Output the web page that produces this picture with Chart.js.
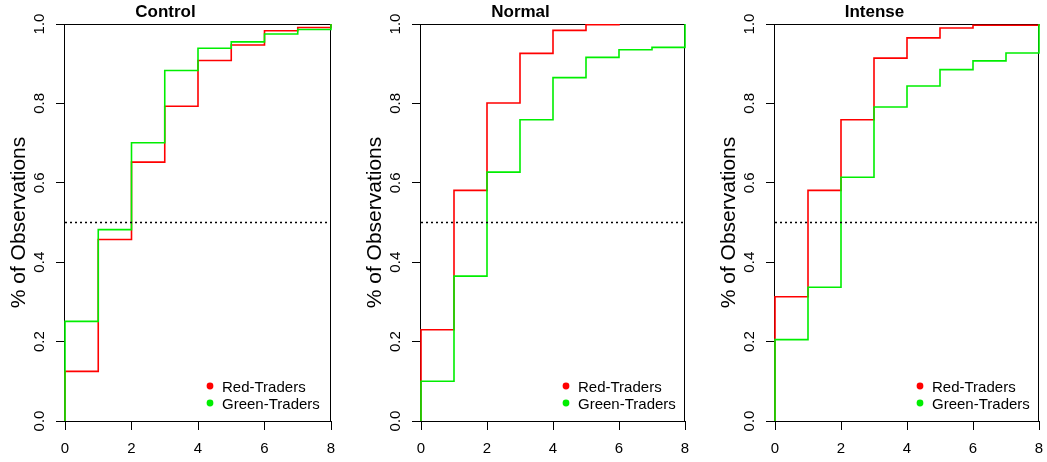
<!DOCTYPE html>
<html>
<head>
<meta charset="utf-8">
<script src="https://cdn.jsdelivr.net/npm/chart.js@4/dist/chart.umd.min.js"></script>
<style>
  html, body { margin: 0; padding: 0; background: #fff; }
  body { width: 1047px; height: 462px; position: relative; overflow: hidden; }
  .panel { position: absolute; top: 0; height: 462px; }
</style>
</head>
<body>
<div class="panel" id="p0" style="left:0px;width:339px"><canvas id="c0"></canvas></div>
<div class="panel" id="p1" style="left:356px;width:337px"><canvas id="c1"></canvas></div>
<div class="panel" id="p2" style="left:710px;width:337px"><canvas id="c2"></canvas></div>
<script>
// Number of trades per trader (x) and cumulative share of observations (y)
const steps = [0, 1, 2, 3, 4, 5, 6, 7, 8];
const ecdfStart = 0;
const medianLevel = 0.5;
const panelTitles = ['Control', 'Normal', 'Intense'];
const seriesNames = ['Red-Traders', 'Green-Traders'];
const xTicks = [0, 2, 4, 6, 8];
const yTicks = [0, 0.2, 0.4, 0.6, 0.8, 1.0];

// Cumulative shares at each count; null = no observations beyond the maximum
const controlRed    = [0.125, 0.457, 0.652, 0.793, 0.908, 0.947, 0.983, 0.991, 1];
const controlGreen  = [0.251, 0.482, 0.701, 0.883, 0.939, 0.955, 0.975, 0.986, 1];
const normalRed     = [0.230, 0.581, 0.801, 0.926, 0.984, 0.998, 1, null, null];
const normalGreen   = [0.100, 0.365, 0.627, 0.759, 0.865, 0.916, 0.935, 0.941, 1];
const intenseRed    = [0.313, 0.581, 0.759, 0.914, 0.965, 0.990, 0.997, 0.997, 1];
const intenseGreen  = [0.205, 0.337, 0.614, 0.791, 0.844, 0.885, 0.907, 0.927, 1];

const panelSeries = [
  [controlRed, controlGreen],
  [normalRed, normalGreen],
  [intenseRed, intenseGreen]
];
const seriesColors = ['#ff0000', '#00ee00'];
const FONT = "'Liberation Sans', Arial, Helvetica, sans-serif";

function ecdfPoints(vals) {
  return [{ x: steps[0], y: ecdfStart }].concat(steps.map((s, i) => ({ x: s, y: vals[i] })));
}

// Frame around the plotting region, drawn beneath the step lines
const boxPlugin = {
  id: 'box',
  beforeDatasetsDraw(chart) {
    const a = chart.chartArea, ctx = chart.ctx;
    ctx.save();
    ctx.strokeStyle = '#000';
    ctx.lineWidth = 1;
    ctx.strokeRect(Math.round(a.left) - 0.5, Math.round(a.top) + 0.5,
                   Math.round(a.right) - Math.round(a.left), Math.round(a.bottom) - Math.round(a.top));
    ctx.restore();
  }
};

// Vertical y tick labels, placed by the y scale
const yLabelPlugin = {
  id: 'yLabels',
  afterDraw(chart) {
    const s = chart.scales.y, ctx = chart.ctx;
    ctx.save();
    ctx.fillStyle = '#000';
    ctx.font = '15px ' + FONT;
    ctx.textAlign = 'center';
    ctx.textBaseline = 'middle';
    s.ticks.forEach(t => {
      const py = s.getPixelForValue(t.value);
      ctx.save();
      ctx.translate(s.right - 25, py);
      ctx.rotate(-Math.PI / 2);
      ctx.fillText(t.value.toFixed(1), 0, 0);
      ctx.restore();
    });
    ctx.restore();
  }
};

// Point legend inside the lower right of the plotting region
const legendPlugin = {
  id: 'pointLegend',
  afterDraw(chart) {
    const a = chart.chartArea, ctx = chart.ctx;
    const items = chart.data.datasets.filter(d => !d.isReference);
    ctx.save();
    ctx.font = '15px ' + FONT;
    ctx.textBaseline = 'middle';
    ctx.textAlign = 'left';
    items.forEach((d, i) => {
      const y = a.bottom - 34 + i * 17;
      const x = a.left + 145;
      ctx.fillStyle = d.borderColor;
      ctx.beginPath();
      ctx.arc(x, y - 1, 3.4, 0, Math.PI * 2);
      ctx.fill();
      ctx.fillStyle = '#000';
      ctx.fillText(d.label, x + 12, y + 1);
    });
    ctx.restore();
  }
};

panelTitles.forEach((title, p) => {
  // green steps are painted over red ones (lower order = on top)
  const datasets = panelSeries[p].map((vals, k) => ({
    label: seriesNames[k],
    data: ecdfPoints(vals),
    borderColor: seriesColors[k],
    backgroundColor: seriesColors[k],
    borderWidth: 1.6,
    stepped: 'before',
    spanGaps: false,
    clip: false,
    order: 2 - k,
    pointRadius: 0,
    fill: false
  }));
  datasets.push({
    label: 'median',
    isReference: true,
    data: [{ x: steps[0], y: medianLevel }, { x: steps[steps.length - 1], y: medianLevel }],
    borderColor: '#000',
    borderWidth: 1.4,
    borderDash: [2, 3],
    order: 0,
    pointRadius: 0,
    fill: false
  });

  new Chart(document.getElementById('c' + p), {
    type: 'line',
    data: { datasets },
    options: {
      responsive: true,
      maintainAspectRatio: false,
      animation: false,
      layout: { padding: { left: 0, right: 8, top: 0, bottom: 0 } },
      plugins: {
        legend: { display: false },
        tooltip: { enabled: false },
        title: {
          display: true,
          text: title,
          color: '#000',
          font: { family: FONT, size: 17, weight: 'bold' },
          padding: { top: 2, bottom: 1.6 }
        }
      },
      scales: {
        x: {
          type: 'linear',
          min: steps[0],
          max: steps[steps.length - 1],
          afterBuildTicks(s) { s.ticks = xTicks.map(v => ({ value: v })); },
          afterFit(s) { s.height = 41; s.paddingLeft = 0; s.paddingRight = 0; },
          border: { display: false },
          grid: { display: true, drawOnChartArea: false, drawTicks: true, tickLength: 9, color: '#000', lineWidth: 1 },
          ticks: { color: '#000', font: { family: FONT, size: 15 }, padding: 10, maxRotation: 0, autoSkip: false }
        },
        y: {
          type: 'linear',
          min: 0,
          max: 1,
          afterBuildTicks(s) { s.ticks = yTicks.map(v => ({ value: v })); },
          afterFit(s) { s.width = 65; s.paddingTop = 0; s.paddingBottom = 0; },
          border: { display: false },
          grid: { display: true, drawOnChartArea: false, drawTicks: true, tickLength: 9, color: '#000', lineWidth: 1 },
          ticks: { display: false },
          title: {
            display: true,
            text: '% of Observations',
            color: '#000',
            font: { family: FONT, size: 21 },
            padding: { top: 7, bottom: 0 }
          }
        }
      }
    },
    plugins: [boxPlugin, yLabelPlugin, legendPlugin]
  });
});
</script>
</body>
</html>
